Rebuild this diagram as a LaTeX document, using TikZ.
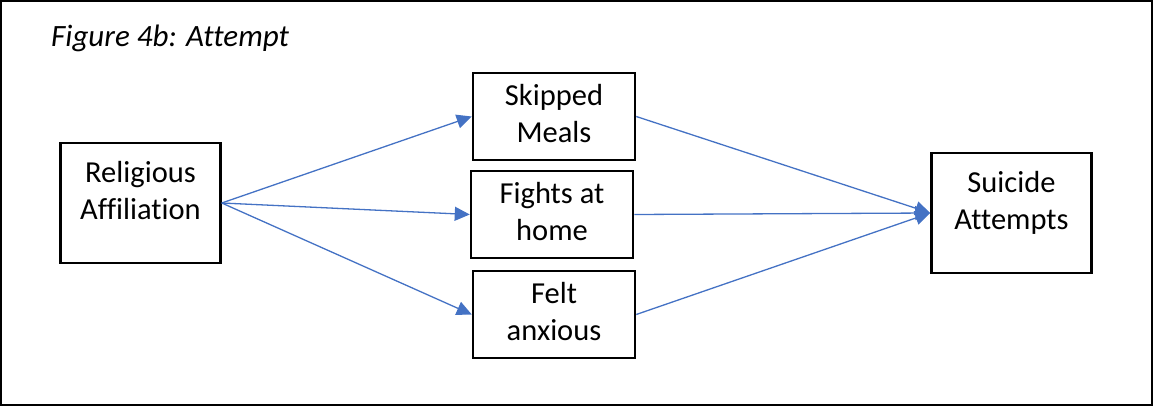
\documentclass[tikz,border=0pt]{standalone}
\usepackage{fontspec}
\setmainfont{Carlito}[Ligatures=NoCommon]
\usetikzlibrary{arrows.meta, positioning}

\definecolor{linkblue}{HTML}{4472C4}
\newcommand{\boxfont}{\fontsize{30.5}{37}\selectfont}
% text sits near the top of each box
\newcommand{\tallbox}[1]{\parbox[c][120pt][t]{160pt}{\centering\vspace*{13.5pt}\strut#1}}
\newcommand{\shortbox}[1]{\parbox[c][87pt][t]{162pt}{\centering\vspace*{6.5pt}\strut#1}}

\tikzset{
  box/.style={rectangle, draw, line width=2.5pt, inner sep=0pt, font=\boxfont},
  link/.style={->, draw=linkblue, line width=1.3pt, >={Triangle[length=15pt, width=14pt]}},
}

\begin{document}
\begin{tikzpicture}[x=1pt, y=-1pt]
  \useasboundingbox (0,0) rectangle (1155,406);
  % outer frame
  \draw [line width=1.6pt] (1,1) rectangle (1152,405);

  % title
  \node (title) [anchor=base west, inner sep=0pt, font=\fontsize{31}{37}\selectfont\itshape] at (51,47) {Figure 4b: Attempt};

  % the boxes
  \node (religion) [box] at (140.5,203) {\tallbox{Religious\\Affiliation}};
  \node (meals) [box] at (554,116.5) {\shortbox{Skipped\\Meals}};
  \node (fights) [box] at (552,214.5) {\shortbox{Fights at\\home}};
  \node (anxious) [box] at (554,314.5) {\shortbox{Felt\\anxious}};
  \node (suicide) [box] at (1011.5,213) {\tallbox{Suicide\\Attempts}};

  \draw [link] (religion.east) -- (meals.west);
  \draw [link] (religion.east) -- (fights.west);
  \draw [link] (religion.east) -- (anxious.west);

  \draw [link] (meals.east) -- (suicide.west);
  \draw [link] (fights.east) -- (suicide.west);
  \draw [link] (anxious.east) -- (suicide.west);
\end{tikzpicture}
\end{document}
